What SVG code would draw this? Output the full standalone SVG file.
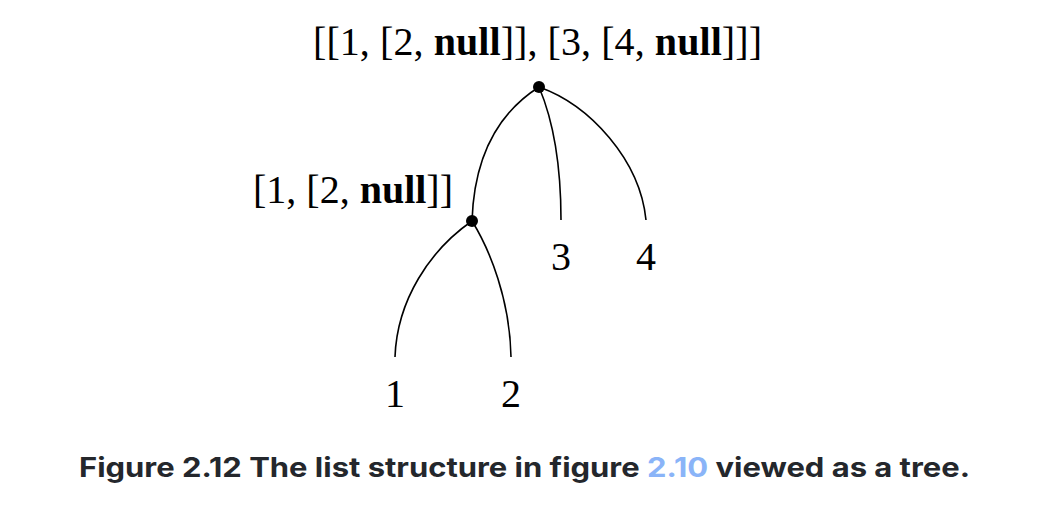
<svg xmlns="http://www.w3.org/2000/svg" width="1048" height="510" viewBox="0 0 1048 510">
<style>
.lbl{font-family:"Liberation Serif","Times New Roman",serif;font-size:40px;fill:#000}
.b{font-weight:bold}
.edge{fill:none;stroke:#000;stroke-width:1.6}
.dot{fill:#000}
.cap{font-family:Inter,"Noto Sans",sans-serif;font-weight:700;font-size:27px;fill:#24272c}
</style>
<rect width="1048" height="510" fill="#fff"/>
<g id="connectors">
<path class="edge" d="M539,87 C495,115 474,160 472,221"/>
<path class="edge" d="M539,87 C553,120 561,160 561,220"/>
<path class="edge" d="M539,87 C590,105 640,160 646,220"/>
<path class="edge" d="M472,221 C430,250 397,300 395,357"/>
<path class="edge" d="M472,221 C490,250 510,300 511,357"/>
</g>
<g id="root">
<circle class="dot" cx="539" cy="87" r="6"/>
<text class="lbl" x="313" y="55" textLength="449" lengthAdjust="spacing">[[1, [2, <tspan class="b">null</tspan>]], [3, [4, <tspan class="b">null</tspan>]]]</text>
</g>
<g id="inner">
<circle class="dot" cx="472" cy="221" r="6"/>
<text class="lbl" x="253" y="203">[1, [2, <tspan class="b">null</tspan>]]</text>
</g>
<g id="leaf3"><text class="lbl" x="561" y="270" text-anchor="middle">3</text></g>
<g id="leaf4"><text class="lbl" x="646" y="270" text-anchor="middle">4</text></g>
<g id="leaf1"><text class="lbl" x="395" y="407" text-anchor="middle">1</text></g>
<g id="leaf2"><text class="lbl" x="511" y="407" text-anchor="middle">2</text></g>
<g id="caption">
<text class="cap" x="79" y="477" textLength="891" lengthAdjust="spacingAndGlyphs">Figure 2.12 The list structure in figure <tspan fill="#8ab4f8">2.10</tspan> viewed as a tree.</text>
</g>
</svg>
